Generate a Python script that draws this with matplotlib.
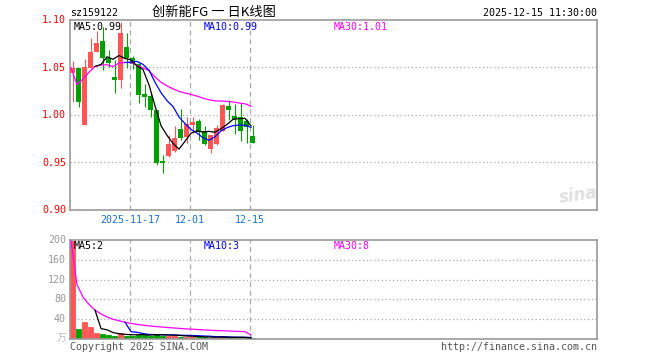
import matplotlib
matplotlib.use('Agg')
import matplotlib.pyplot as plt
import numpy as np
import pandas as pd

# ---------------- data ----------------
dates = ['2025-11-03', '2025-11-04', '2025-11-05', '2025-11-06', '2025-11-07',
         '2025-11-10', '2025-11-11', '2025-11-12', '2025-11-13', '2025-11-14',
         '2025-11-17', '2025-11-18', '2025-11-19', '2025-11-20', '2025-11-21',
         '2025-11-24', '2025-11-25', '2025-11-26', '2025-11-27', '2025-11-28',
         '2025-12-01', '2025-12-02', '2025-12-03', '2025-12-04', '2025-12-05',
         '2025-12-08', '2025-12-09', '2025-12-10', '2025-12-11', '2025-12-12',
         '2025-12-15']
opens = [1.0446, 1.0498, 0.990, 1.0498, 1.0663, 1.0782, 1.0604, 1.0396, 1.0368, 1.0712,
         1.060, 1.054, 1.022, 1.020, 1.0053, 0.951, 0.957, 0.962, 0.985, 0.9772,
         0.9895, 0.9937, 0.9832, 0.9639, 0.970, 0.983, 1.0098, 0.9989, 0.998, 0.994,
         0.978]
highs = [1.0568, 1.0498, 1.0586, 1.0807, 1.088, 1.093, 1.068, 1.058, 1.098, 1.086,
         1.062, 1.055, 1.033, 1.022, 1.0053, 0.958, 0.979, 0.988, 1.006, 0.998,
         0.998, 0.996, 0.9884, 0.979, 0.989, 1.012, 1.0158, 1.012, 1.013, 0.996,
         0.9895]
lows = [1.014, 1.008, 0.989, 1.0498, 1.0663, 1.047, 1.051, 1.023, 1.028, 1.049,
        1.048, 1.0123, 1.0088, 0.998, 0.947, 0.9393, 0.956, 0.961, 0.9737, 0.971,
        0.981, 0.9737, 0.9684, 0.960, 0.968, 0.983, 0.995, 0.980, 0.973, 0.971,
        0.970]
closes = [1.0498, 1.014, 1.050, 1.0663, 1.0754, 1.0604, 1.0544, 1.0368, 1.086, 1.0596,
          1.054, 1.021, 1.0186, 1.0053, 0.949, 0.950, 0.970, 0.976, 0.9754, 0.9905,
          0.9923, 0.9825, 0.9695, 0.979, 0.986, 1.0105, 1.0053, 0.9961, 0.983, 0.9877,
          0.971]
volumes = [198, 21, 35, 25, 13, 11, 9, 7, 13, 7,
           7, 9, 9, 7, 11, 7, 7, 7, 5, 5,
           5, 4, 3.5, 2.5, 2.5, 6, 3, 2.5, 2.5, 2.5,
           1.5]
price_ticks = [0.90, 0.95, 1.00, 1.05, 1.10]
vol_ticks = [40, 80, 120, 160, 200]
date_marks = ['2025-11-17', '2025-12-01', '2025-12-15']
date_texts = ['2025-11-17', '12-01', '12-15']

code = 'sz159122'
title = '创新能FG 一 日K线图'
stamp = '2025-12-15 11:30:00'

# ---------------- styles ----------------
RED = '#ff5555'
GREEN = '#00a000'
FRAME = '#999999'
GRID = '#aaaaaa'
MONO = 'DejaVu Sans Mono'
W, H = 660, 360

def fx(px):
    return px / W

def fy(py):
    return 1 - py / H

fig = plt.figure(figsize=(6.6, 3.6), dpi=100)
fig.patch.set_facecolor('white')

ax = fig.add_axes([fx(70), fy(210), (597 - 70) / W, (210 - 20) / H])
axv = fig.add_axes([fx(70), fy(339), (597 - 70) / W, (339 - 240) / H])

n = len(closes)
idx = np.arange(n)
o = np.array(opens); c = np.array(closes)
hi = np.array(highs); lo = np.array(lows)
v = np.array(volumes)
up = c >= o
cols = [RED if u else GREEN for u in up]

xmin, xmax = -0.42, 87.42
line_off = -0.25

for a in (ax, axv):
    a.set_xlim(xmin, xmax)
    a.set_xticks([])
    a.set_yticks([])
    for s in a.spines.values():
        s.set_color(FRAME)
        s.set_linewidth(1.2)
    for d in date_marks:
        a.axvline(dates.index(d) - 0.42, color=GRID, lw=0.9, ls=(0, (4, 3)), zorder=0)

ax.set_ylim(price_ticks[0], price_ticks[-1])
axv.set_ylim(0, vol_ticks[-1])

for t in price_ticks[1:-1]:
    ax.axhline(t, color=GRID, lw=0.9, ls=(0, (1, 2)), zorder=0)
for t in vol_ticks[:-1]:
    axv.axhline(t, color=GRID, lw=0.9, ls=(0, (1, 2)), zorder=0)

# candles
ax.vlines(idx, lo, hi, colors=cols, lw=0.8, zorder=2)
body_h = np.maximum(np.abs(c - o), 0.0012)
ax.bar(idx, body_h, bottom=np.minimum(o, c), width=0.8, color=cols, lw=0, zorder=3)

# price MAs
cs = pd.Series(c)
ma5 = cs.rolling(5).mean()
ma10 = cs.rolling(10).mean()
ma30 = cs.rolling(30, min_periods=1).mean()
ax.plot(idx + line_off, ma30, color='#ff00ff', lw=0.9, zorder=4)
ax.plot(idx + line_off, ma10, color='#0000ff', lw=0.9, zorder=4)
ax.plot(idx + line_off, ma5, color='black', lw=0.9, zorder=4)

# volume
axv.bar(idx, v, width=0.72, color=cols, edgecolor=cols, lw=0.6, zorder=2)
vs = pd.Series(v)
vma5 = vs.rolling(5).mean()
vma10 = vs.rolling(10).mean()
vma30 = vs.rolling(30, min_periods=1).mean()
axv.plot(idx + line_off, vma30, color='#ff00ff', lw=0.9, zorder=4)
axv.plot(idx + line_off, vma10, color='#0000ff', lw=0.9, zorder=4)
axv.plot(idx + line_off, vma5, color='black', lw=0.9, zorder=4)

# MA legends
fs = 7.2
def legend_row(py, texts):
    for px, txt, col in texts:
        fig.text(fx(px), fy(py), txt, color=col, fontsize=fs, family=MONO,
                 ha='left', va='center')

legend_row(27, [(74, 'MA5:%.2f' % ma5.iloc[-1], 'black'),
                (204, 'MA10:%.2f' % ma10.iloc[-1], '#0000ff'),
                (334, 'MA30:%.2f' % ma30.iloc[-1], '#ff00ff')])
legend_row(246, [(74, 'MA5:%.0f' % vma5.iloc[-1], 'black'),
                 (204, 'MA10:%.0f' % vma10.iloc[-1], '#0000ff'),
                 (334, 'MA30:%.0f' % vma30.iloc[-1], '#ff00ff')])

# price tick labels
for t in price_ticks:
    py = 210 - (t - price_ticks[0]) / (price_ticks[-1] - price_ticks[0]) * 190
    fig.text(fx(66), fy(py), '%.2f' % t, color='#ff0000', fontsize=fs, family=MONO,
             ha='right', va='center')
for t in vol_ticks:
    py = 339 - t / vol_ticks[-1] * 99
    fig.text(fx(66), fy(py), '%d' % t, color='#999999', fontsize=fs, family=MONO,
             ha='right', va='center')
fig.text(fx(66), fy(338), '万', color='#bbbbbb', fontsize=7,
         family=['Noto Sans CJK SC', 'DejaVu Sans'], ha='right', va='center')

# date labels
for d, txt in zip(date_marks, date_texts):
    px = 72.5 + 6 * (dates.index(d) - 0.42)
    fig.text(fx(px), fy(220), txt, color='#1a70d0', fontsize=fs, family=MONO,
             ha='center', va='center')

# header
fig.text(fx(70), fy(13), code, color='black', fontsize=fs, family=MONO,
         ha='left', va='center')
fig.text(fx(214), fy(12.5), title, color='black', fontsize=9.5,
         family=['Noto Sans CJK SC', 'DejaVu Sans'], ha='center', va='center')
fig.text(fx(597), fy(13), stamp, color='black', fontsize=fs, family=MONO,
         ha='right', va='center')

# footer
fig.text(fx(70), fy(347), 'Copyright 2025 SINA.COM', color='#555555', fontsize=fs,
         family=MONO, ha='left', va='center')
fig.text(fx(597), fy(347), 'http://finance.sina.com.cn', color='#555555', fontsize=fs,
         family=MONO, ha='right', va='center')

# watermark
fig.text(fx(578), fy(195), 'sina', color='#e0e0e0', fontsize=12, fontweight='bold',
         style='italic', family='DejaVu Sans', ha='center', va='center', rotation=8)

fig.savefig('out.png', dpi=100, facecolor='white')
